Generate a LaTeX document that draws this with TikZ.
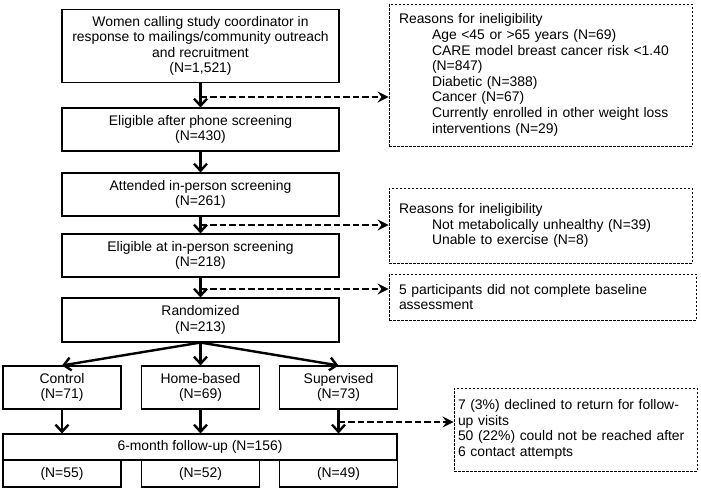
\documentclass[tikz,border=0pt]{standalone}
\usepackage{fontspec}
\setmainfont{Liberation Sans}
\usetikzlibrary{calc,arrows.meta}
\newcommand{\ind}{\hspace*{33pt}}

\begin{document}
\begin{tikzpicture}[x=1pt,y=-1pt,
	every node/.style={font=\fontsize{13.9}{15.6}\selectfont, inner sep=0pt},
	mainbox/.style={draw, line width=1.1pt, minimum width=277pt, minimum height=43pt, align=center},
	armbox/.style={draw, line width=1.1pt, minimum width=118pt, minimum height=43pt, align=center},
	cellbox/.style={draw, line width=1.1pt, minimum width=118pt, minimum height=27pt},
	sidebox/.style={draw, line width=0.9pt, dash pattern=on 2.5pt off 1.5pt, inner xsep=10pt, align=left},
	flow/.style={line width=2.4pt, -{Straight Barb[length=7pt,width=13pt,line width=2.4pt]}},
	sideflow/.style={line width=2.4pt, dash pattern=on 6.5pt off 3pt, -{Stealth[length=11pt,width=11pt,inset=4pt]}}]
	\useasboundingbox (0,0) rectangle (701,490);

	\node[mainbox, minimum height=73.5pt] (calls) at (200.5,46){Women calling study coordinator in\\response to mailings/community outreach\\and recruitment\\(N=1,521)};
	\node[mainbox] (phone) at (200.5,129.5){Eligible after phone screening\\(N=430)};
	\node[mainbox] (attend) at (200.5,194.5){Attended in-person screening\\(N=261)};
	\node[mainbox] (elig) at (200.5,255.5){Eligible at in-person screening\\(N=218)};
	\node[mainbox, minimum height=44pt] (rand) at (200.5,320){Randomized\\(N=213)};
	\node[armbox] (ctrl) at (62,387.5){Control\\(N=71)};
	\node[armbox] (home) at (200.5,387.5){Home-based\\(N=69)};
	\node[armbox] (sup) at (338.5,387.5){Supervised\\(N=73)};
	\node[draw, line width=1.1pt, minimum width=394pt, minimum height=26pt] (fu) at (200,447){6-month follow-up (N=156)};
	\node[cellbox] (fuctrl) at (62,473.5){(N=55)};
	\node[cellbox] (fuhome) at (200.5,473.5){(N=52)};
	\node[cellbox] (fusup) at (338.5,473.5){(N=49)};

	\node[sidebox, text width=283pt, minimum height=142pt] (why1) at (540.5,75){Reasons for ineligibility\\
		\ind Age <45 or >65 years (N=69)\\
		\ind CARE model breast cancer risk <1.40\\
		\ind (N=847)\\
		\ind Diabetic (N=388)\\
		\ind Cancer (N=67)\\
		\ind Currently enrolled in other weight loss\\
		\ind interventions (N=29)};
	\node[sidebox, text width=283pt, minimum height=75pt] (why2) at (540.5,225.5){Reasons for ineligibility\\
		\ind Not metabolically unhealthy (N=39)\\
		\ind Unable to exercise (N=8)};
	\node[sidebox, text width=287pt, minimum height=46pt] (base) at (542.5,297){5 participants did not complete baseline\\assessment};
	\node[sidebox, inner xsep=4pt, text width=235pt, minimum height=83pt] (lost) at (575.5,429.5){7 (3\%) declined to return for follow-\\up visits\\50 (22\%) could not be reached after\\6 contact attempts};

	\coordinate (j1) at (200.5,97);
	\coordinate (j2) at (200.5,225);
	\coordinate (j3) at (200.5,289);
	\coordinate (j4) at (338.5,422);

	%main flow
	\draw[flow] (calls) -- (phone);
	\draw[flow] (phone) -- (attend);
	\draw[flow] (attend) -- (elig);
	\draw[flow] (elig) -- (rand);
	\draw[flow] (rand.south) -- (ctrl.north);
	\draw[flow] (rand.south) -- (home.north);
	\draw[flow] (rand.south) -- (sup.north);
	\draw[flow] (ctrl) -- (ctrl |- fu.north);
	\draw[flow] (home) -- (home |- fu.north);
	\draw[flow] (sup) -- (sup |- fu.north);
	%exclusions
	\draw[sideflow] (j1) -- (j1 -| why1.west);
	\draw[sideflow] (j2) -- (j2 -| why2.west);
	\draw[sideflow] (j3) -- (j3 -| base.west);
	\draw[sideflow] (j4) -- (j4 -| lost.west);
\end{tikzpicture}
\end{document}
